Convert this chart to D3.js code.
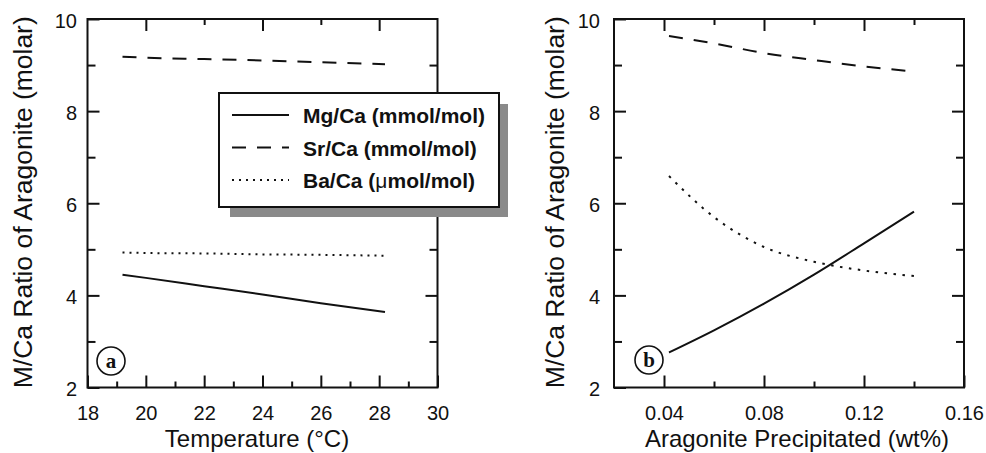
<!DOCTYPE html>
<html lang="en">
<head>
    <meta charset="UTF-8">
    <title>M/Ca Ratio of Aragonite</title>
    <script src="https://d3js.org/d3.v7.min.js"></script>
    <style>
        body { margin: 0; background: #fff; }
        text { font-family: "Liberation Sans", Arial, sans-serif; fill: #111; }
        .tick text { font-size: 20px; }
        .axis-title { font-size: 24px; }
        .legend text { font-size: 21px; font-weight: bold; }
        .panel-tag { font-family: "Liberation Serif", "Times New Roman", serif; font-weight: bold; font-size: 21px; }
    </style>
</head>
<body>
    <div id="chart"></div>

    <script type="text/javascript">
        // panel (a): model vs temperature
        const tempA = [19.2, 20, 22, 24, 26, 28.2];
        const mgA = [4.45, 4.38, 4.20, 4.02, 3.83, 3.64];
        const srA = [9.18, 9.16, 9.13, 9.10, 9.06, 9.02];
        const baA = [4.93, 4.92, 4.91, 4.89, 4.88, 4.86];

        // panel (b): model vs aragonite precipitated
        const wtB = [0.042, 0.06, 0.08, 0.10, 0.12, 0.14];
        const mgB = [2.76, 3.24, 3.82, 4.45, 5.13, 5.82];
        const srB = [9.63, 9.47, 9.26, 9.11, 8.97, 8.86];
        const baB = [6.59, 5.70, 5.05, 4.73, 4.54, 4.42];

        const yMajor = [2, 4, 6, 8, 10];
        const yMinor = [3, 5, 7, 9];
        const xMajorA = [18, 20, 22, 24, 26, 28, 30];
        const xMinorA = [19, 21, 23, 25, 27, 29];
        const xTopMajorA = [20, 24, 28];
        const xTopMinorA = [22, 26];
        const xMajorB = [0.04, 0.08, 0.12, 0.16];
        const xMinorB = [0.06, 0.10, 0.14];

        const legendLabels = ["Mg/Ca (mmol/mol)", "Sr/Ca (mmol/mol)", "Ba/Ca (μmol/mol)"];
        const yTitle = "M/Ca Ratio of Aragonite (molar)";

        const width = 986, height = 453;
        const plotTop = 19, plotBottom = 387.5;

        const svg = d3.select("#chart").append("svg")
            .attr("width", width)
            .attr("height", height);

        const y = d3.scaleLinear().domain([2, 10]).range([plotBottom, plotTop]);

        function drawPanel(p) {
            const x = p.x;
            const [x0, x1] = x.range();
            const g = svg.append("g");

            const styleAxis = sel => {
                sel.select(".domain").remove();
                sel.selectAll(".tick line").attr("stroke", "#111").attr("stroke-width", 2);
            };

            // bottom
            g.append("g").attr("transform", `translate(0,${plotBottom})`)
                .call(d3.axisBottom(x).tickValues(p.xMajor).tickSize(-12).tickPadding(18).tickFormat(p.fmt))
                .call(styleAxis);
            g.append("g").attr("transform", `translate(0,${plotBottom})`)
                .call(d3.axisBottom(x).tickValues(p.xMinor).tickSize(-6).tickFormat(""))
                .call(styleAxis);
            // top
            g.append("g").attr("transform", `translate(0,${plotTop})`)
                .call(d3.axisTop(x).tickValues(p.xTopMajor).tickSize(-12).tickFormat(""))
                .call(styleAxis);
            g.append("g").attr("transform", `translate(0,${plotTop})`)
                .call(d3.axisTop(x).tickValues(p.xTopMinor).tickSize(-6).tickFormat(""))
                .call(styleAxis);
            // left
            g.append("g").attr("transform", `translate(${x0},0)`)
                .call(d3.axisLeft(y).tickValues(yMajor).tickSize(-12).tickPadding(p.yPad).tickFormat(d3.format("d")))
                .call(styleAxis)
                .call(s => s.selectAll(".tick text").attr("dy", "0.42em"));
            g.append("g").attr("transform", `translate(${x0},0)`)
                .call(d3.axisLeft(y).tickValues(yMinor).tickSize(-8).tickFormat(""))
                .call(styleAxis);
            // right
            g.append("g").attr("transform", `translate(${x1},0)`)
                .call(d3.axisRight(y).tickValues(yMajor.slice(1, -1)).tickSize(-12).tickFormat(""))
                .call(styleAxis);
            g.append("g").attr("transform", `translate(${x1},0)`)
                .call(d3.axisRight(y).tickValues(yMinor).tickSize(-8).tickFormat(""))
                .call(styleAxis);

            // frame
            g.append("rect")
                .attr("x", x0).attr("y", plotTop)
                .attr("width", x1 - x0).attr("height", plotBottom - plotTop)
                .attr("fill", "none").attr("stroke", "#111").attr("stroke-width", 2);

            // curves
            const line = d3.line()
                .x(d => x(d[0]))
                .y(d => y(d[1]))
                .curve(d3.curveMonotoneX);
            const series = [
                {vals: p.mg, dash: null},
                {vals: p.sr, dash: "14,11"},
                {vals: p.ba, dash: p.dot}
            ];
            series.forEach(s => {
                g.append("path")
                    .datum(p.xs.map((v, i) => [v, s.vals[i]]))
                    .attr("d", line)
                    .attr("fill", "none")
                    .attr("stroke", "#111")
                    .attr("stroke-width", 2)
                    .attr("stroke-dasharray", s.dash);
            });

            // axis titles
            g.append("text")
                .attr("class", "axis-title")
                .attr("x", p.xTitleX).attr("y", 447)
                .attr("text-anchor", "middle")
                .text(p.xTitle);
            g.append("text")
                .attr("class", "axis-title")
                .attr("transform", `translate(${p.yTitleX},${(plotTop + plotBottom) / 2 - 1}) rotate(-90)`)
                .attr("text-anchor", "middle")
                .attr("textLength", 372)
                .attr("lengthAdjust", "spacingAndGlyphs")
                .style("font-size", "25px")
                .text(yTitle);

            // panel tag
            g.append("circle")
                .attr("cx", p.tag[0]).attr("cy", p.tag[1]).attr("r", 14)
                .attr("fill", "#fff").attr("stroke", "#111").attr("stroke-width", 1.6);
            g.append("text")
                .attr("class", "panel-tag")
                .attr("x", p.tag[0]).attr("y", p.tag[1] + 6.5)
                .attr("text-anchor", "middle")
                .text(p.tagText);
        }

        drawPanel({
            x: d3.scaleLinear().domain([18, 30]).range([87.5, 437.5]),
            xMajor: xMajorA, xMinor: xMinorA,
            xTopMajor: xTopMajorA, xTopMinor: xTopMinorA,
            fmt: d3.format("d"), yPad: 10.5,
            xs: tempA, mg: mgA, sr: srA, ba: baA, dot: "2,5",
            xTitle: "Temperature (°C)", xTitleX: 257, yTitleX: 32,
            tag: [111, 361], tagText: "a"
        });

        drawPanel({
            x: d3.scaleLinear().domain([0.02, 0.16]).range([614, 964]),
            xMajor: xMajorB, xMinor: xMinorB,
            xTopMajor: xMajorB.slice(0, -1), xTopMinor: xMinorB,
            fmt: d3.format(".2f"), yPad: 14,
            xs: wtB, mg: mgB, sr: srB, ba: baB, dot: "2.5,6.5",
            xTitle: "Aragonite Precipitated (wt%)", xTitleX: 797, yTitleX: 564,
            tag: [649, 360], tagText: "b"
        });

        // legend (panel a), with drop shadow
        const legend = svg.append("g").attr("class", "legend");
        legend.append("rect")
            .attr("x", 230).attr("y", 104).attr("width", 278).attr("height", 113)
            .attr("fill", "#8a8a8a");
        legend.append("rect")
            .attr("x", 219).attr("y", 93).attr("width", 280).attr("height", 114)
            .attr("fill", "#fff").attr("stroke", "#111").attr("stroke-width", 2);

        const legendDash = [null, "14,11", "2,5"];
        const rowY = d3.scalePoint().domain(legendLabels).range([115, 180]);
        legendLabels.forEach((lab, i) => {
            const yy = rowY(lab);
            legend.append("line")
                .attr("x1", 232).attr("x2", 289)
                .attr("y1", yy).attr("y2", yy)
                .attr("stroke", "#111").attr("stroke-width", 2)
                .attr("stroke-dasharray", legendDash[i]);
            const t = legend.append("text")
                .attr("x", 303).attr("y", yy + 8);
            const parts = lab.split("μ");
            t.append("tspan").text(parts[0]);
            if (parts.length > 1) {
                t.append("tspan").style("font-weight", "normal").text("μ");
                t.append("tspan").text(parts[1]);
            }
        });
    </script>
</body>
</html>
